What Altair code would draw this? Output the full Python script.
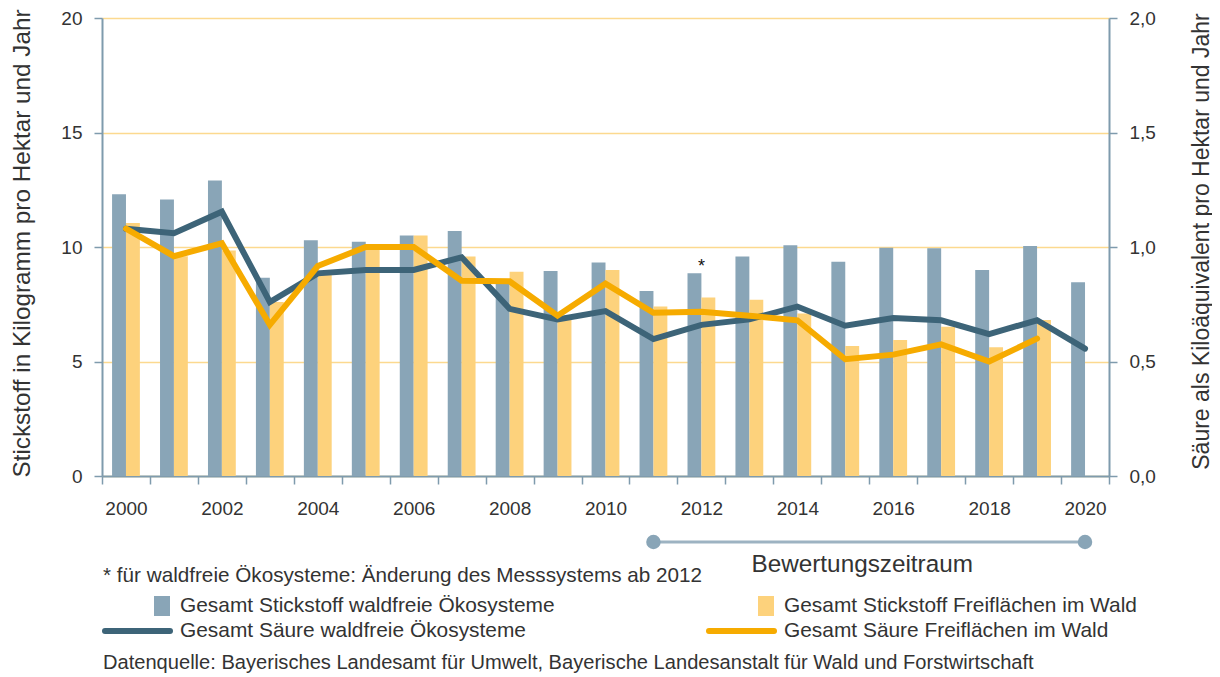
import altair as alt
import pandas as pd

# ---------------- data ----------------
years = list(range(2000, 2021))
n_waldfrei = [12.3, 12.07, 12.9, 8.66, 10.3, 10.23, 10.5, 10.7, 8.4, 8.95, 9.32,
              8.08, 8.85, 9.58, 10.08, 9.36, 9.97, 9.94, 9.0, 10.04, 8.46]
n_frei = [11.05, 9.6, 9.85, 7.6, 8.9, 9.9, 10.5, 9.58, 8.92, 7.0, 9.0,
          7.4, 7.8, 7.7, 7.1, 5.68, 5.94, 6.52, 5.62, 6.81, None]
s_waldfrei = [1.08, 1.06, 1.154, 0.76, 0.885, 0.90, 0.90, 0.955, 0.73, 0.684, 0.72,
              0.598, 0.66, 0.684, 0.74, 0.656, 0.69, 0.68, 0.62, 0.68, 0.556]
s_frei = [1.08, 0.96, 1.016, 0.66, 0.917, 1.0, 1.0, 0.853, 0.85, 0.70, 0.84,
          0.713, 0.717, 0.70, 0.68, 0.51, 0.53, 0.575, 0.50, 0.60, None]

S1 = "Gesamt Stickstoff waldfreie Ökosysteme"
S2 = "Gesamt Stickstoff Freiflächen im Wald"
S3 = "Gesamt Säure waldfreie Ökosysteme"
S4 = "Gesamt Säure Freiflächen im Wald"
series = [S1, S2, S3, S4]
series_kind = ["bar", "bar", "line", "line"]
legend_col = [0, 1, 0, 1]
legend_row = [0, 0, 1, 1]
colors = ["#89a5b7", "#fdd27c", "#3d6478", "#f6ab00"]

asterisk_year = [2012]
asterisk_value = [8.9]

period_start = [2011]
period_end = [2020]
period_label = ["Bewertungszeitraum"]

footnote = "* für waldfreie Ökosysteme: Änderung des Messsystems ab 2012"
source = "Datenquelle: Bayerisches Landesamt für Umwelt, Bayerische Landesanstalt für Wald und Forstwirtschaft"

left_title = "Stickstoff in Kilogramm pro Hektar und Jahr"
right_title = "Säure als Kiloäquivalent pro Hektar und Jahr"

# ---------------- tables ----------------
bars_df = pd.DataFrame(
    [{"year": y, "series": S1, "value": v} for y, v in zip(years, n_waldfrei) if v is not None]
    + [{"year": y, "series": S2, "value": v} for y, v in zip(years, n_frei) if v is not None]
)
dark_df = pd.DataFrame([{"year": y, "series": S3, "value": v} for y, v in zip(years, s_waldfrei) if v is not None])
orange_df = pd.DataFrame([{"year": y, "series": S4, "value": v} for y, v in zip(years, s_frei) if v is not None])
ast_df = pd.DataFrame({"year": asterisk_year, "value": asterisk_value})
period_df = pd.DataFrame({"start": period_start, "end": period_end, "label": period_label})
period_pts = pd.DataFrame({"year": period_start + period_end})
legend_df = pd.DataFrame({"series": series, "kind": series_kind, "col": legend_col, "row": legend_row})

# ---------------- styling ----------------
FONT = "Liberation Sans"
TXT = "#333333"
AX = "#7f9bad"
GRID = "#fcd98f"
BW = 0.29

xscale = alt.Scale(domain=[1999.5, 2020.5], nice=False, zero=False)
xaxis = alt.Axis(
    values=[1999.5 + i for i in range(22)],
    labelExpr="((datum.value + 0.5) % 2 == 0 && datum.value < 2020) ? format(datum.value + 0.5, 'd') : ''",
    labelOffset=24, tickSize=8, tickColor=AX, tickWidth=1.5,
    domainColor=AX, domainWidth=2, grid=False,
    labelFontSize=19, labelColor=TXT, labelPadding=15,
    labelOverlap=False, labelBound=False, labelFlush=False, title=None,
)


def X(field):
    return alt.X(field, type="quantitative", scale=xscale, axis=xaxis)


left_scale = alt.Scale(domain=[0, 20], nice=False, zero=True)
left_axis = alt.Axis(
    orient="left", values=[0, 5, 10, 15, 20], tickSize=8, tickColor=AX, tickWidth=1.5,
    domainColor=AX, domainWidth=2, grid=True, gridColor=GRID, gridWidth=1.5,
    labelFontSize=19, labelColor=TXT, labelPadding=12,
    title=left_title, titleFontSize=24.3, titleFontWeight="normal", titleColor=TXT,
    titleX=-80, titleY=225, titleAngle=-90, titleBaseline="middle", titleAlign="center",
)
right_scale = alt.Scale(domain=[0, 2], nice=False, zero=True)
right_axis = alt.Axis(
    orient="right", values=[0, 0.5, 1, 1.5, 2], tickSize=8, tickColor=AX, tickWidth=1.5,
    domainColor=AX, domainWidth=2, grid=False,
    labelExpr="replace(format(datum.value, '.1f'), '.', ',')",
    labelFontSize=19, labelColor=TXT, labelPadding=12,
    title=right_title, titleFontSize=23, titleFontWeight="normal", titleColor=TXT,
    titleX=92, titleY=223, titleAngle=-90, titleBaseline="middle", titleAlign="center",
)

color_scale = alt.Scale(domain=series, range=colors)

# ---------------- layers ----------------
bars = (
    alt.Chart(bars_df)
    .transform_calculate(
        x0=f"datum.series == '{S1}' ? datum.year - {BW} : datum.year",
        x1=f"datum.series == '{S1}' ? datum.year : datum.year + {BW}",
    )
    .mark_bar(stroke=None)
    .encode(
        x=X("x0"), x2="x1:Q",
        y=alt.Y("value:Q", scale=left_scale, axis=left_axis),
        y2=alt.datum(0),
        color=alt.Color("series:N", scale=color_scale, legend=None),
    )
)
asterisk = (
    alt.Chart(ast_df)
    .mark_text(text="*", fontSize=18, font=FONT, color="#111111", baseline="alphabetic")
    .encode(x=X("year"), y=alt.Y("value:Q", scale=left_scale, axis=left_axis))
)
left = alt.layer(bars, asterisk)

line_dark = (
    alt.Chart(dark_df)
    .mark_line(strokeWidth=6, strokeCap="round")
    .encode(
        x=X("year"),
        y=alt.Y("value:Q", scale=right_scale, axis=right_axis),
        color=alt.Color("series:N", scale=color_scale, legend=None),
    )
)
line_orange = (
    alt.Chart(orange_df)
    .mark_line(strokeWidth=6, strokeCap="round")
    .encode(
        x=X("year"),
        y=alt.Y("value:Q", scale=right_scale, axis=right_axis),
        color=alt.Color("series:N", scale=color_scale, legend=None),
    )
)
right = alt.layer(line_dark, line_orange)

# ---------------- legend (built from the series table) ----------------
COLW = 604
legend_base = alt.Chart(legend_df).transform_calculate(
    lx0=f"3 + datum.col * {COLW}",
    lsq=f"52 + datum.col * {COLW}",
    lx1=f"68 + datum.col * {COLW}",
    tx=f"78 + datum.col * {COLW}",
    ly=f"588 + datum.row * 25",
    ly0=f"578 + datum.row * 25",
    ly1=f"598 + datum.row * 25",
)
legend_sq = (
    legend_base.transform_filter("datum.kind == 'bar'")
    .mark_rect()
    .encode(
        x=alt.X("lsq:Q", scale=None), x2="lx1:Q",
        y=alt.Y("ly0:Q", scale=None), y2="ly1:Q",
        color=alt.Color("series:N", scale=color_scale, legend=None),
    )
)
legend_ln = (
    legend_base.transform_filter("datum.kind == 'line'")
    .mark_rule(strokeWidth=6, strokeCap="round")
    .encode(
        x=alt.X("lx0:Q", scale=None), x2="lx1:Q",
        y=alt.Y("ly:Q", scale=None),
        color=alt.Color("series:N", scale=color_scale, legend=None),
    )
)
legend_tx = (
    legend_base.mark_text(fontSize=20.9, font=FONT, color=TXT, align="left", baseline="middle")
    .encode(x=alt.X("tx:Q", scale=None), y=alt.Y("ly:Q", scale=None), text="series:N")
)

# ---------------- annotations ----------------
period_rule = (
    alt.Chart(period_df)
    .mark_rule(color="#9db3c2", strokeWidth=3)
    .encode(x=X("start"), x2="end:Q", y=alt.value(524))
)
period_dots = (
    alt.Chart(period_pts)
    .mark_circle(size=210, color="#89a5b7", opacity=1)
    .encode(x=X("year"), y=alt.value(524))
)
period_text = (
    alt.Chart(period_df)
    .transform_calculate(mid="(datum.start + datum.end) / 2")
    .mark_text(fontSize=24.3, font=FONT, color=TXT, baseline="middle", dx=-7)
    .encode(x=X("mid"), y=alt.value(547), text="label:N")
)
foot = (
    alt.Chart(pd.DataFrame({"t": [footnote]}))
    .mark_text(fontSize=20.7, font=FONT, color=TXT, align="left", baseline="middle")
    .encode(x=alt.value(1), y=alt.value(558), text="t:N")
)
src = (
    alt.Chart(pd.DataFrame({"t": [source]}))
    .mark_text(fontSize=20.1, font=FONT, color=TXT, align="left", baseline="middle")
    .encode(x=alt.value(1), y=alt.value(645), text="t:N")
)

chart = (
    alt.layer(left, right, legend_sq, legend_ln, legend_tx,
              period_rule, period_dots, period_text, foot, src)
    .resolve_scale(y="independent")
    .properties(
        width=1007, height=458,
        autosize=alt.AutoSizeParams(type="none"),
        padding={"left": 94, "top": 10, "right": 103, "bottom": 197},
        background="white",
    )
    .configure_view(stroke=None)
    .configure(font=FONT)
)

chart.save("out.html", embed_options={"renderer": "svg", "actions": False})
